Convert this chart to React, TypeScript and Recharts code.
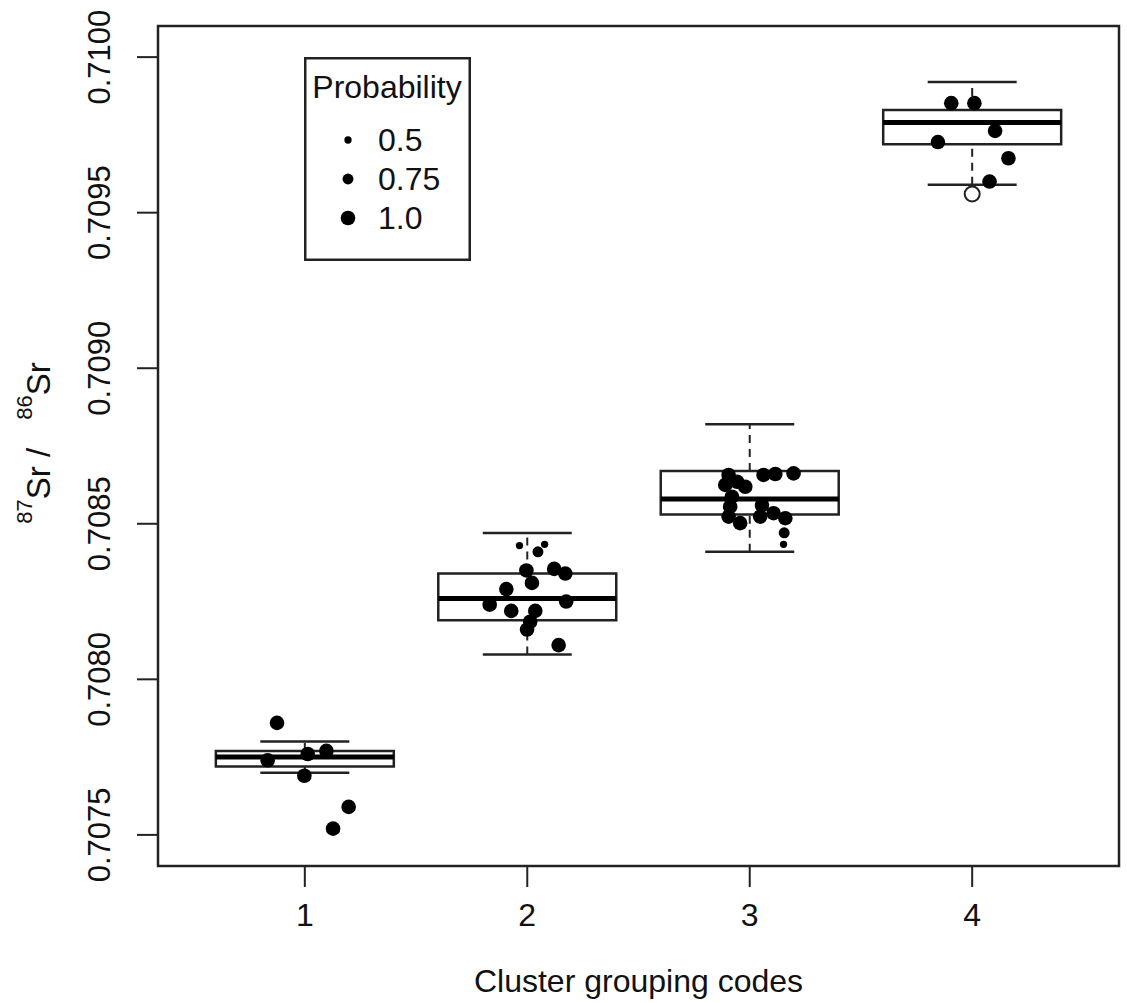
import React from "react";
import {
  ScatterChart, Scatter, XAxis, YAxis, ReferenceArea, ReferenceLine, Legend, Label,
} from "recharts";

type Pt = { x: number; y: number; p: number };

const CLUSTERS   = [1, 2, 3, 4];
const WHISKER_LO = [0.70770, 0.70808, 0.70841, 0.70959];
const Q1         = [0.70772, 0.70819, 0.70853, 0.70972];
const MEDIAN     = [0.70775, 0.70826, 0.70858, 0.70979];
const Q3         = [0.70777, 0.70834, 0.70867, 0.70983];
const WHISKER_HI = [0.70780, 0.70847, 0.70882, 0.70992];
const OUTLIERS   = [{ x: 4, y: 0.70956 }];

const Y_TICKS = [0.7075, 0.7080, 0.7085, 0.7090, 0.7095, 0.7100];
const X_DOMAIN: [number, number] = [0.34, 4.66];
const Y_DOMAIN: [number, number] = [0.7074, 0.7101];

const PROBS = [0.5, 0.75, 1.0];
const PROB_LABELS = ["0.5", "0.75", "1.0"];

// jittered cluster members (x = jittered cluster code, p = membership probability)
const points1: Pt[] = [
  { x: 0.875, y: 0.70786, p: 1 }, { x: 0.833, y: 0.70774, p: 1 }, { x: 1.013, y: 0.70776, p: 1 },
  { x: 1.097, y: 0.70777, p: 1 }, { x: 0.998, y: 0.70769, p: 1 }, { x: 1.197, y: 0.70759, p: 1 },
  { x: 1.127, y: 0.70752, p: 1 },
];
const points2: Pt[] = [
  { x: 1.965, y: 0.70843, p: 0.5 }, { x: 2.078, y: 0.708434, p: 0.5 }, { x: 2.048, y: 0.70841, p: 0.75 },
  { x: 1.996, y: 0.70835, p: 1 }, { x: 2.021, y: 0.70831, p: 1 }, { x: 2.121, y: 0.708355, p: 1 },
  { x: 2.171, y: 0.70834, p: 1 }, { x: 1.906, y: 0.70829, p: 1 }, { x: 1.831, y: 0.70824, p: 1 },
  { x: 1.928, y: 0.70822, p: 1 }, { x: 2.175, y: 0.70825, p: 1 }, { x: 2.036, y: 0.70822, p: 1 },
  { x: 2.013, y: 0.708185, p: 1 }, { x: 1.999, y: 0.70816, p: 1 }, { x: 2.141, y: 0.70811, p: 1 },
];
const points3: Pt[] = [
  { x: 2.905, y: 0.708657, p: 1 }, { x: 2.890, y: 0.708625, p: 1 }, { x: 2.943, y: 0.708635, p: 1 },
  { x: 2.980, y: 0.708619, p: 1 }, { x: 2.920, y: 0.708587, p: 1 }, { x: 2.912, y: 0.708555, p: 1 },
  { x: 2.905, y: 0.708523, p: 1 }, { x: 2.957, y: 0.708502, p: 1 }, { x: 3.062, y: 0.708657, p: 1 },
  { x: 3.115, y: 0.70866, p: 1 }, { x: 3.197, y: 0.708662, p: 1 }, { x: 3.055, y: 0.70856, p: 1 },
  { x: 3.047, y: 0.708523, p: 1 }, { x: 3.107, y: 0.708534, p: 1 }, { x: 3.160, y: 0.708518, p: 1 },
  { x: 3.155, y: 0.708471, p: 0.75 }, { x: 3.152, y: 0.708434, p: 0.5 },
];
const points4: Pt[] = [
  { x: 3.906, y: 0.709852, p: 1 }, { x: 4.010, y: 0.709852, p: 1 }, { x: 4.103, y: 0.709763, p: 1 },
  { x: 3.846, y: 0.709727, p: 1 }, { x: 4.163, y: 0.709675, p: 1 }, { x: 4.078, y: 0.7096, p: 1 },
];

const BOX_HALF = 0.4;
const CAP_HALF = 0.2;
const MAX_R = 7.3;

const INK  = "#222";
const FONT = "'Liberation Sans', Arial, sans-serif";
const FS   = 32;   // horizontal text
const FS_Y = 31;   // rotated y tick labels

const allPoints = [...points1, ...points2, ...points3, ...points4];

function Dot(props: any) {
  const p = props.payload?.p ?? props.p ?? 1;
  return <circle cx={props.cx} cy={props.cy} r={MAX_R * p} fill="#000" />;
}

function OpenDot(props: any) {
  return <circle cx={props.cx} cy={props.cy} r={7.5} fill="#fff" stroke={INK} strokeWidth={2} />;
}

function YTick({ x, y, payload }: any) {
  const tx = x - 25;
  return (
    <text x={tx} y={y} transform={`rotate(-90, ${tx}, ${y})`} textAnchor="middle"
      fontFamily={FONT} fontSize={FS_Y} fill="#111">
      {Number(payload.value).toFixed(4)}
    </text>
  );
}

function XTick({ x, y, payload }: any) {
  return (
    <text x={x} y={y + 37} textAnchor="middle" fontFamily={FONT} fontSize={FS} fill="#111">
      {payload.value}
    </text>
  );
}

function YTitle({ viewBox }: any) {
  const cx = 50;
  const cy = viewBox.y + viewBox.height / 2 - 3;
  return (
    <text x={cx} y={cy} transform={`rotate(-90, ${cx}, ${cy})`} textAnchor="middle"
      fontFamily={FONT} fontSize={33} fill="#111">
      <tspan fontSize={22} dy={-18}>87</tspan>
      <tspan dy={18}>Sr /</tspan>
      <tspan fontSize={22} dy={-18} dx={28}>86</tspan>
      <tspan dy={18}>Sr</tspan>
    </text>
  );
}

function XTitle({ viewBox }: any) {
  return (
    <text x={viewBox.x + viewBox.width / 2} y={viewBox.y + 126} textAnchor="middle"
      fontFamily={FONT} fontSize={FS} fill="#111">
      Cluster grouping codes
    </text>
  );
}

function ProbLegend() {
  return (
    <svg width={167} height={204} style={{ display: "block" }}>
      <rect x={1.25} y={1.25} width={164.5} height={201.5} fill="#fff" stroke={INK} strokeWidth={2.5} />
      <text x={83} y={41} textAnchor="middle" fontFamily={FONT} fontSize={FS} fill="#111">Probability</text>
      {PROBS.map((p, i) => (
        <g key={p}>
          <circle cx={44} cy={83 + i * 39} r={MAX_R * p} fill="#000" />
          <text x={74} y={83 + i * 39 + 11} fontFamily={FONT} fontSize={FS} fill="#111">{PROB_LABELS[i]}</text>
        </g>
      ))}
    </svg>
  );
}

export default function App() {
  return (
    <div style={{ width: 1127, height: 1003, background: "#fff" }}>
      <style>{"body{margin:0}"}</style>
      <ScatterChart width={1127} height={1003} margin={{ top: 26, right: 8, left: 0, bottom: 0 }}>
        <XAxis type="number" dataKey="x" domain={X_DOMAIN} ticks={CLUSTERS} allowDataOverflow
          height={137} tickSize={21} axisLine={false} tickLine={{ stroke: INK, strokeWidth: 2 }}
          tick={<XTick />} interval={0}>
          <Label content={<XTitle />} />
        </XAxis>
        <YAxis type="number" dataKey="y" domain={Y_DOMAIN} ticks={Y_TICKS} allowDataOverflow
          width={158} tickSize={21} axisLine={false} tickLine={{ stroke: INK, strokeWidth: 2 }}
          tick={<YTick />} interval={0}>
          <Label content={<YTitle />} />
        </YAxis>

        {/* plot frame */}
        <ReferenceArea x1={X_DOMAIN[0]} x2={X_DOMAIN[1]} y1={Y_DOMAIN[0]} y2={Y_DOMAIN[1]}
          fill="none" stroke={INK} strokeWidth={2.5} ifOverflow="visible" />

        {CLUSTERS.map((c, i) => (
          <React.Fragment key={c}>
            <ReferenceLine segment={[{ x: c, y: Q3[i] }, { x: c, y: WHISKER_HI[i] }]}
              stroke={INK} strokeWidth={2} strokeDasharray="8 6" />
            <ReferenceLine segment={[{ x: c, y: WHISKER_LO[i] }, { x: c, y: Q1[i] }]}
              stroke={INK} strokeWidth={2} strokeDasharray="8 6" />
            <ReferenceLine segment={[{ x: c - CAP_HALF, y: WHISKER_HI[i] }, { x: c + CAP_HALF, y: WHISKER_HI[i] }]}
              stroke={INK} strokeWidth={2.5} />
            <ReferenceLine segment={[{ x: c - CAP_HALF, y: WHISKER_LO[i] }, { x: c + CAP_HALF, y: WHISKER_LO[i] }]}
              stroke={INK} strokeWidth={2.5} />
            <ReferenceArea x1={c - BOX_HALF} x2={c + BOX_HALF} y1={Q1[i]} y2={Q3[i]}
              fill="#fff" fillOpacity={1} stroke={INK} strokeWidth={2.5} />
            <ReferenceLine segment={[{ x: c - BOX_HALF, y: MEDIAN[i] }, { x: c + BOX_HALF, y: MEDIAN[i] }]}
              stroke="#000" strokeWidth={5} />
          </React.Fragment>
        ))}

        <Scatter data={OUTLIERS} shape={<OpenDot />} isAnimationActive={false} />
        <Scatter data={allPoints} shape={<Dot />} isAnimationActive={false} />

        <Legend layout="vertical" align="center" verticalAlign="middle" content={<ProbLegend />}
          wrapperStyle={{ left: 304, top: 57, width: 167, height: 204 }} />
      </ScatterChart>
    </div>
  );
}
